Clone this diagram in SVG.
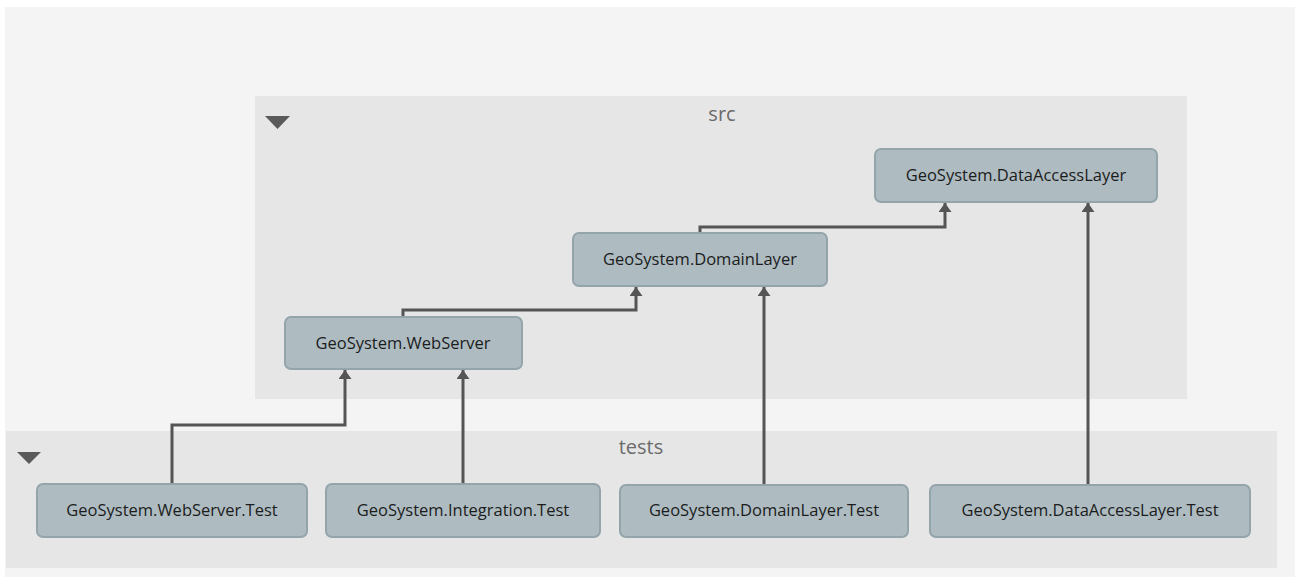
<svg xmlns="http://www.w3.org/2000/svg" width="1300" height="577" viewBox="0 0 1300 577">
  <style>
    .group { fill: #e6e6e6; }
    .group-label { font-family: "Open Sans", "Noto Sans", "Liberation Sans", sans-serif; font-size: 20px; fill: #6b6b6b; text-anchor: middle; }
    .toggle { fill: #5a5a5a; }
    .node rect { fill: #aebcc2; stroke: #93a4ab; stroke-width: 2; }
    .node text { font-family: "Open Sans", "Noto Sans", "Liberation Sans", sans-serif; font-size: 16.5px; fill: #1c1c1c; text-anchor: middle; }
    .edge { fill: none; stroke: #555555; stroke-width: 3; marker-end: url(#arrow); }
  </style>
  <defs>
    <marker id="arrow" viewBox="0 0 9 13" refX="9" refY="6.5" markerWidth="9" markerHeight="13" markerUnits="userSpaceOnUse" orient="auto">
      <path d="M0,0 L9,6.5 L0,13 Z" fill="#555555"/>
    </marker>
  </defs>

  <!-- canvas -->
  <rect x="0" y="0" width="1300" height="577" fill="#ffffff"/>
  <rect x="5" y="7" width="1290" height="570" fill="#f4f4f4"/>

  <!-- containers -->
  <g id="group-src">
    <rect class="group" x="255" y="96" width="932" height="303"/>
    <polygon class="toggle" points="265,116 290,116 277.5,129"/>
    <text class="group-label" x="722" y="121">src</text>
  </g>
  <g id="group-tests">
    <rect class="group" x="6" y="431" width="1271" height="137"/>
    <polygon class="toggle" points="17,452 41,452 29,464"/>
    <text class="group-label" x="641" y="454">tests</text>
  </g>

  <!-- dependencies -->
  <g id="connectors">
    <path class="edge" d="M172,484 V425 H345 V370"/>
    <path class="edge" d="M463,484 V370"/>
    <path class="edge" d="M403,317 V310 H636 V287"/>
    <path class="edge" d="M764,485 V287"/>
    <path class="edge" d="M700,233 V227 H945 V203"/>
    <path class="edge" d="M1088,485 V203"/>
  </g>

  <!-- projects -->
  <g id="node-dataaccesslayer" class="node">
    <rect x="875" y="149" width="282" height="53" rx="6"/>
    <text x="1016" y="181">GeoSystem.DataAccessLayer</text>
  </g>
  <g id="node-domainlayer" class="node">
    <rect x="573" y="233" width="254" height="53" rx="6"/>
    <text x="700" y="265">GeoSystem.DomainLayer</text>
  </g>
  <g id="node-webserver" class="node">
    <rect x="285" y="317" width="237" height="52" rx="6"/>
    <text x="403" y="349">GeoSystem.WebServer</text>
  </g>
  <g id="node-webserver-test" class="node">
    <rect x="37" y="484" width="270" height="53" rx="6"/>
    <text x="172" y="516">GeoSystem.WebServer.Test</text>
  </g>
  <g id="node-integration-test" class="node">
    <rect x="326" y="484" width="274" height="53" rx="6"/>
    <text x="463" y="516">GeoSystem.Integration.Test</text>
  </g>
  <g id="node-domainlayer-test" class="node">
    <rect x="620" y="485" width="288" height="52" rx="6"/>
    <text x="764" y="516">GeoSystem.DomainLayer.Test</text>
  </g>
  <g id="node-dataaccesslayer-test" class="node">
    <rect x="930" y="485" width="320" height="52" rx="6"/>
    <text x="1090" y="516">GeoSystem.DataAccessLayer.Test</text>
  </g>
</svg>
